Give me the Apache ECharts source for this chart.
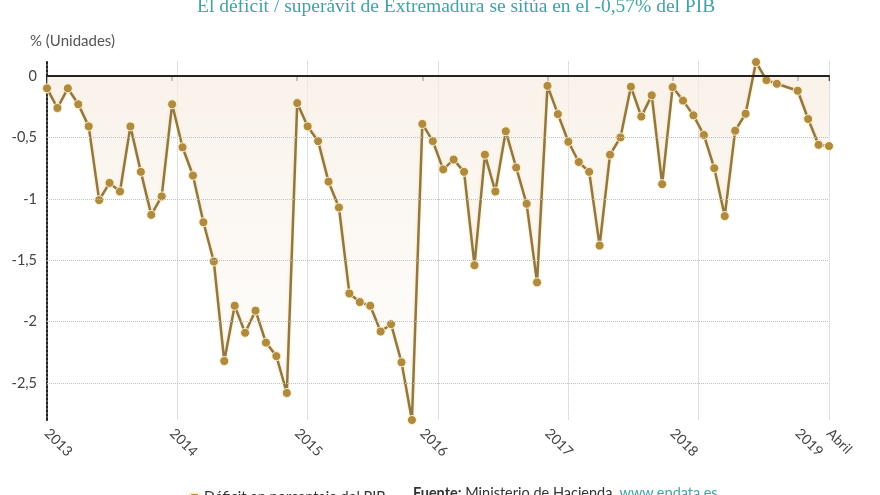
<!DOCTYPE html>
<html>
<head>
<meta charset="utf-8">
<script src="https://cdn.jsdelivr.net/npm/echarts@6/dist/echarts.min.js"></script>
<style>
html,body{margin:0;padding:0;background:#fff;}
#chart{width:880px;height:495px;}
</style>
</head>
<body>
<div id="chart"></div>
<script>
// Monthly values, Jan 2013 (index 0) to Apr 2019 (index 75); null = no data point
const monthIndex = Array.from({length: 76}, (_, i) => i);
const deficitValues = [
  -0.10, -0.26, -0.10, -0.23, -0.41, -1.01, -0.87, -0.94, -0.41, -0.78, -1.13, -0.98,
  -0.23, -0.58, -0.81, -1.19, -1.51, -2.32, -1.87, -2.09, -1.91, -2.17, -2.28, -2.58,
  -0.22, -0.41, -0.53, -0.86, -1.07, -1.77, -1.84, -1.87, -2.08, -2.02, -2.33, -2.80,
  -0.39, -0.53, -0.76, -0.68, -0.78, -1.54, -0.64, -0.94, -0.45, -0.745, -1.04, -1.68,
  -0.08, -0.31, -0.535, -0.70, -0.78, -1.38, -0.64, -0.50, -0.087, -0.33, -0.157, -0.88,
  -0.09, -0.20, -0.32, -0.48, -0.75, -1.14, -0.445, -0.307, 0.114, -0.033, -0.063, null,
  -0.12, -0.35, -0.56, -0.57
];
const yearLabels = ['2013', '2014', '2015', '2016', '2017', '2018', '2019'];
const lastLabel = 'Abril';
const gridValues = [-0.5, -1, -1.5, -2, -2.5];
const seriesName = 'Déficit en porcentaje del PIB';
const titleText = 'El déficit / superávit de Extremadura se sitúa en el -0,57% del PIB';

const seriesData = monthIndex
  .map(i => [i, deficitValues[i]])
  .filter(p => p[1] !== null);

const FONT = 'Lato, "Noto Sans", sans-serif';
const chart = echarts.init(document.getElementById('chart'), null, {renderer: 'canvas'});

chart.setOption({
  animation: false,
  backgroundColor: '#ffffff',
  grid: {left: 47, right: 51, top: 61.3, bottom: 75, containLabel: false},
  graphic: [
    {
      type: 'text', left: 197, top: -3,
      style: {text: titleText, font: '19.5px "Liberation Serif", "DejaVu Serif", serif', fill: '#3fa3a9'}
    },
    {
      type: 'text', left: 30, top: 34,
      style: {text: '% (Unidades)', font: '15px ' + FONT, fill: '#555'}
    },
    {
      type: 'text', left: 413, top: 486,
      style: {
        text: '{b|Fuente:} Ministerio de Hacienda. {l|www.epdata.es}',
        font: '14.5px ' + FONT, fill: '#333',
        rich: {
          b: {fontWeight: 'bold', fontSize: 14.5, fontFamily: FONT, fill: '#333'},
          l: {fontSize: 14.5, fontFamily: FONT, fill: '#3fa3a9'}
        }
      }
    }
  ],
  legend: {
    data: [seriesName], left: 184, top: 485, icon: 'rect',
    itemWidth: 9, itemHeight: 9, itemGap: 6,
    textStyle: {fontSize: 14.5, fontFamily: FONT, color: '#333'}
  },
  xAxis: [
    {
      type: 'value', min: 0, max: 75, interval: 12,
      axisLine: {show: true, lineStyle: {color: '#222', width: 2}},
      axisTick: {show: true, length: 5, lineStyle: {color: '#222', width: 1.5}},
      splitLine: {show: false},
      axisLabel: {
        rotate: -45, margin: 11, fontSize: 14, fontFamily: FONT, color: '#444',
        showMinLabel: true, showMaxLabel: true,
        formatter: v => v === 75 ? lastLabel : (yearLabels[Math.round(v / 12)] || '')
      }
    },
    {
      type: 'value', min: 0, max: 75, interval: 12.5, position: 'bottom',
      axisLine: {show: false}, axisTick: {show: false}, axisLabel: {show: false},
      splitLine: {show: true, lineStyle: {color: '#c0c0c0', type: 'dotted', width: 1}}
    }
  ],
  yAxis: {
    type: 'value', min: -2.8, max: 0.12, splitNumber: 5,
    axisLine: {show: true, lineStyle: {color: '#222', width: 2, type: 'dotted'}},
    axisTick: {show: false},
    splitLine: {show: false},
    axisLabel: {
      margin: 10, fontSize: 14.5, fontFamily: FONT, color: '#444',
      showMinLabel: false, showMaxLabel: false,
      formatter: v => String(v).replace('.', ',')
    }
  },
  series: [{
    name: seriesName, type: 'line', xAxisIndex: 0, data: seriesData,
    symbol: 'circle', symbolSize: 9, showSymbol: true,
    lineStyle: {color: '#8f7747', width: 2.5, shadowColor: 'rgba(255,225,150,0.9)', shadowBlur: 3},
    itemStyle: {color: '#b08a3e', borderColor: '#fff3cf', borderWidth: 1},
    areaStyle: {
      origin: 0,
      color: new echarts.graphic.LinearGradient(0, 0, 0, 1, [
        {offset: 0, color: '#f6ece0'},
        {offset: 1, color: '#ffffff'}
      ])
    },
    markLine: {
      silent: true, symbol: 'none', label: {show: false}, animation: false,
      data: gridValues.map(v => ({yAxis: v, lineStyle: {color: '#c0c0c0', type: 'dotted', width: 1}}))
        .concat([{yAxis: 0, lineStyle: {color: '#222', type: 'solid', width: 2}}])
    },
    z: 3
  }]
});
</script>
</body>
</html>
